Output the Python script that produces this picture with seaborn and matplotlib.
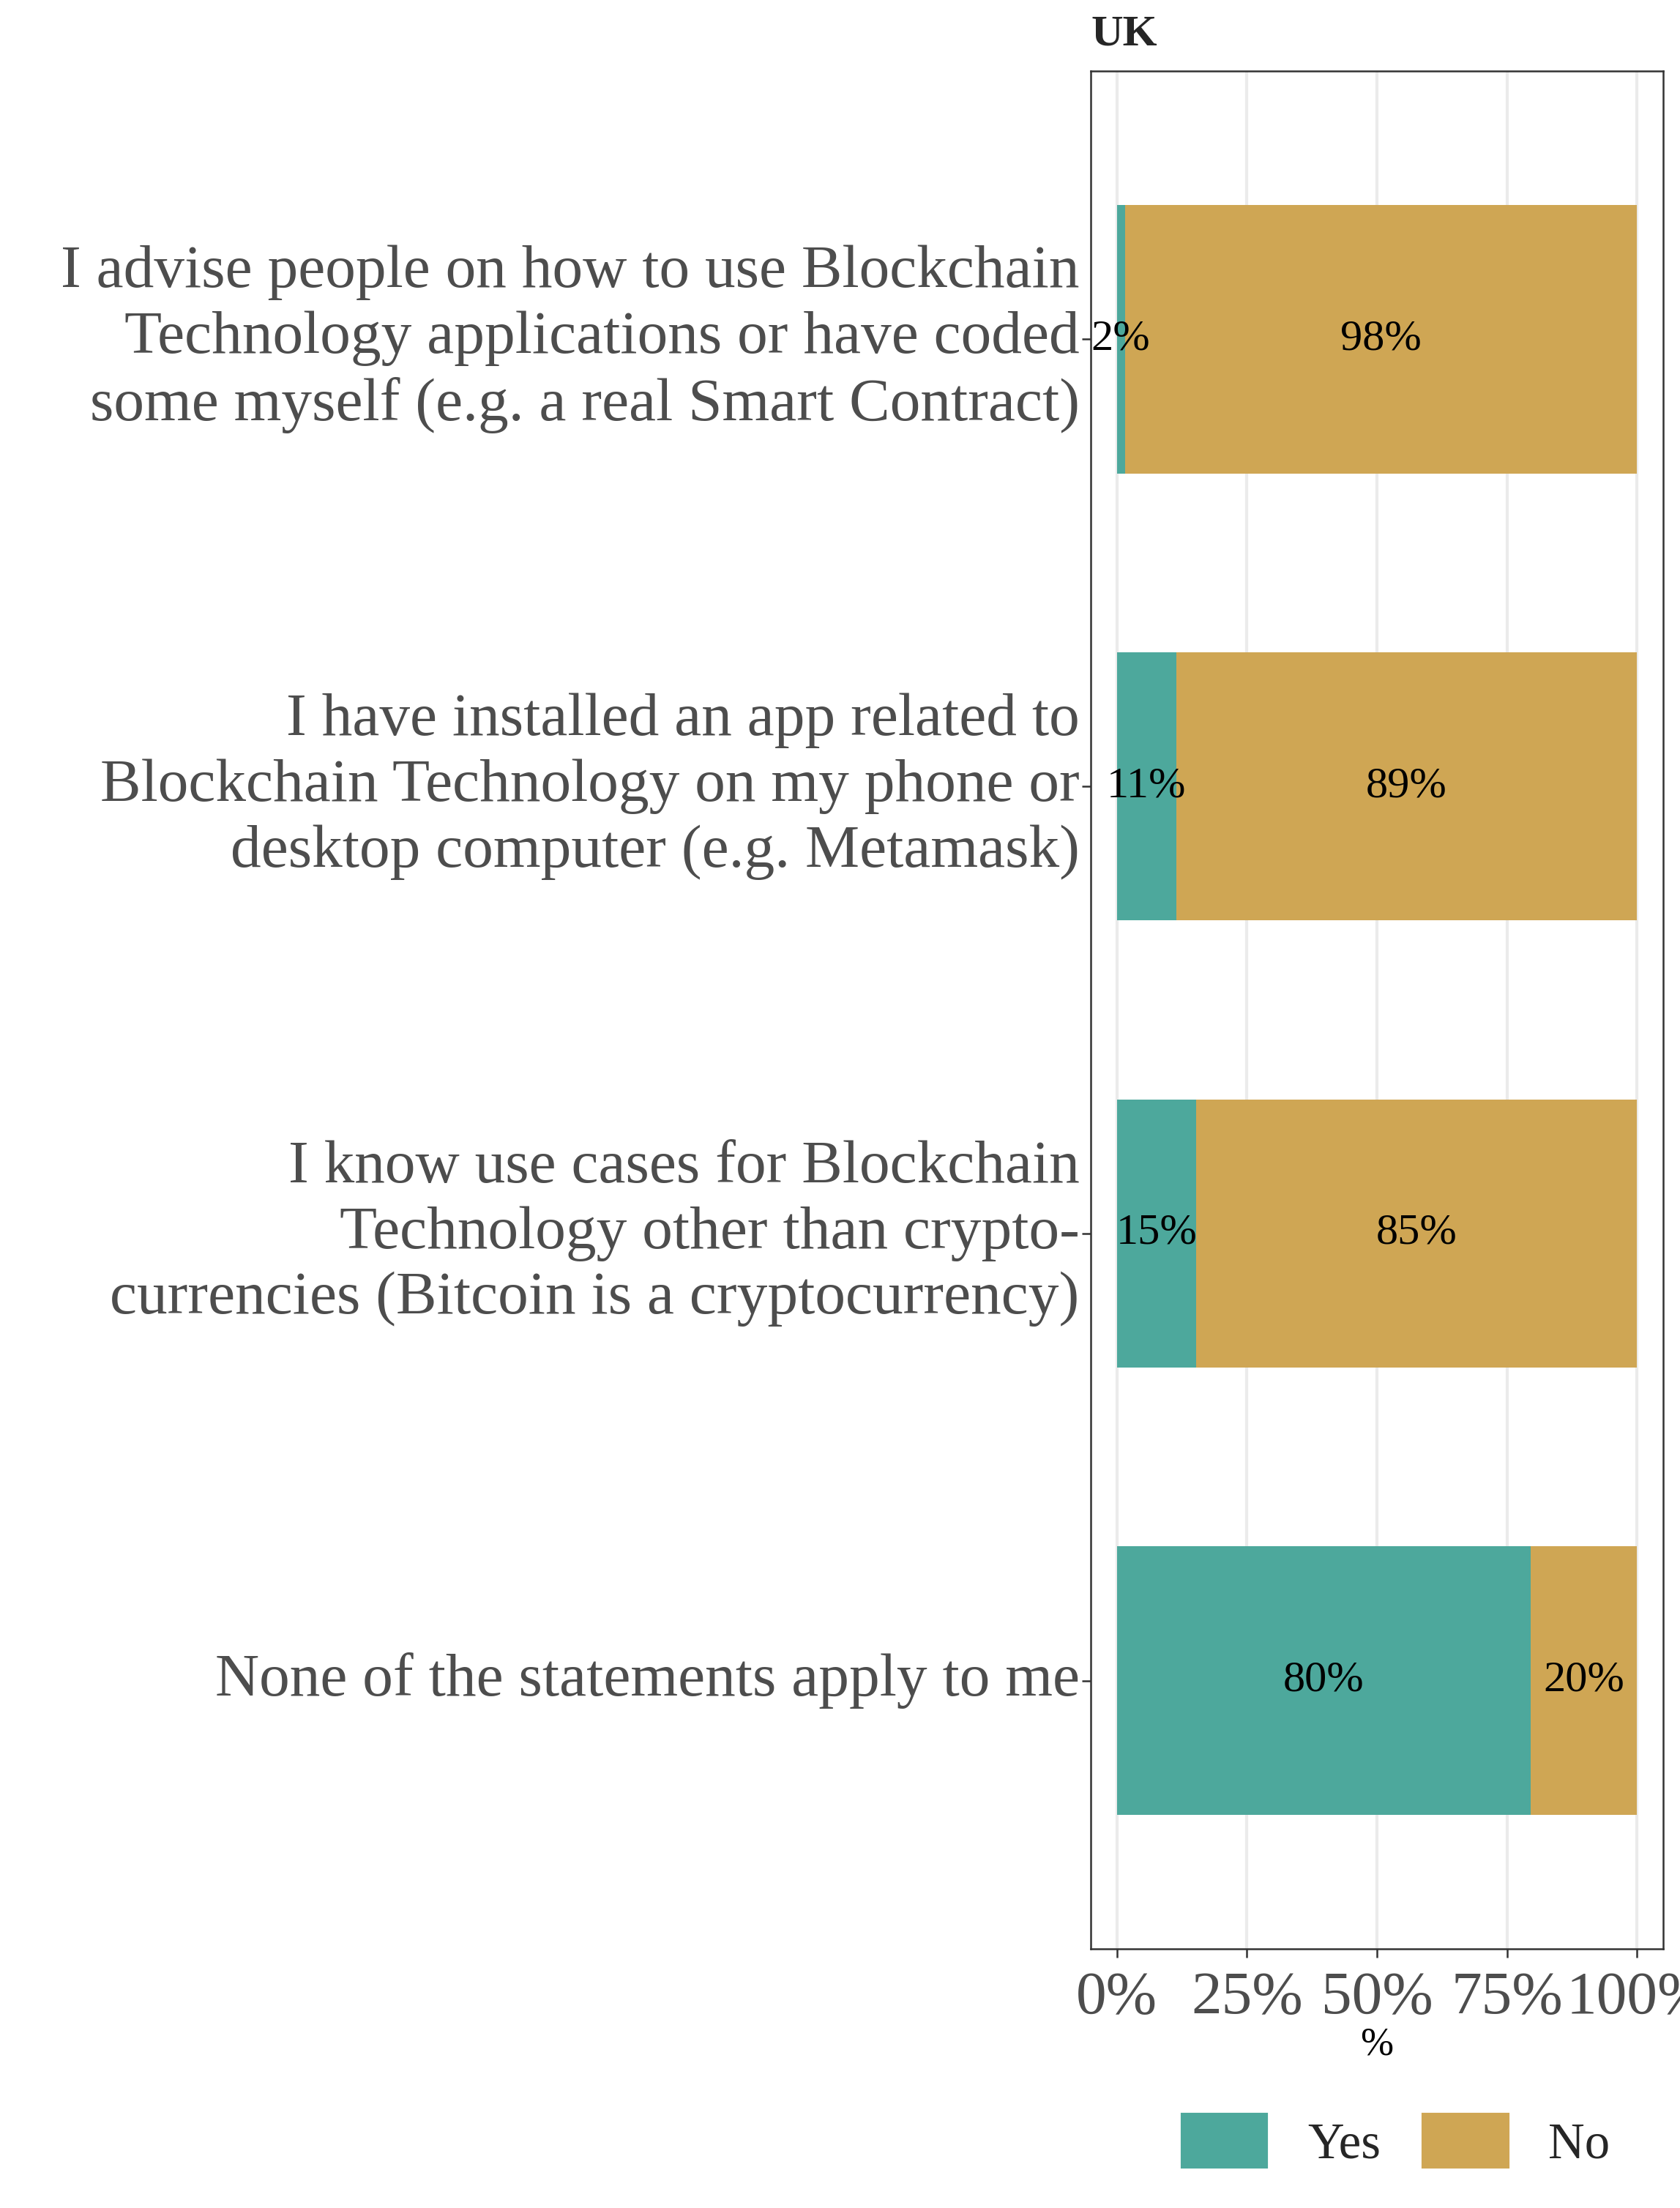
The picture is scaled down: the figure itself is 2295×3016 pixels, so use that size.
import matplotlib
matplotlib.use("Agg")
import matplotlib.pyplot as plt
import matplotlib.patches as mpatches
import seaborn as sns
import numpy as np
import pandas as pd

# ---- data ----
statements = [
    "I advise people on how to use Blockchain\nTechnology applications or have coded\nsome myself (e.g. a real Smart Contract)",
    "I have installed an app related to\nBlockchain Technology on my phone or\ndesktop computer (e.g. Metamask)",
    "I know use cases for Blockchain\nTechnology other than crypto-\ncurrencies (Bitcoin is a cryptocurrency)",
    "None of the statements apply to me",
]
yes_pct = [1.6, 11.4, 15.3, 79.6]
no_pct = [100 - v for v in yes_pct]
legend_labels = ["Yes", "No"]
x_ticks = [0, 25, 50, 75, 100]
x_tick_labels = ["0%", "25%", "50%", "75%", "100%"]
panel_title = "UK"
x_label = "%"

# ---- style ----
sns.set_style("white")
plt.rcParams["font.family"] = ["Liberation Serif", "DejaVu Serif"]

teal = "#4DA89C"
gold = "#CFA654"
grid_c = "#EBEBEB"
border_c = "#333333"
tick_label_c = "#4D4D4D"

df = pd.DataFrame({"statement": statements, "yes": yes_pct, "no": no_pct})
df["total"] = df["yes"] + df["no"]

fig = plt.figure(figsize=(2295 / 300, 3016 / 300), dpi=300)
ax = fig.add_axes([1490 / 2295, 1 - 2662 / 3016, (2272 - 1490) / 2295, (2662 - 97) / 3016])

ax.set_axisbelow(True)
for t in x_ticks:
    ax.axvline(t, color=grid_c, lw=1.0, zorder=0)

sns.barplot(data=df, x="total", y="statement", color=gold, width=0.6,
            saturation=1, ax=ax, orient="h", zorder=2, linewidth=0)
sns.barplot(data=df, x="yes", y="statement", color=teal, width=0.6,
            saturation=1, ax=ax, orient="h", zorder=3, linewidth=0)

for i, (y, n) in enumerate(zip(df["yes"], df["no"])):
    ax.text(y / 2, i, f"{round(y):d}%", ha="center", va="center",
            fontsize=14.5, color="black", zorder=5)
    ax.text(y + n / 2, i, f"{round(n):d}%", ha="center", va="center",
            fontsize=14.5, color="black", zorder=5)

ax.set_xlim(-5, 105)
ax.set_ylim(3.6, -0.6)
ax.set_xticks(x_ticks)
ax.set_xticklabels(x_tick_labels, fontsize=20, color=tick_label_c)
ax.tick_params(axis="x", length=2.9, width=0.6, color=border_c, pad=4.5, direction="out", bottom=True)
ax.tick_params(axis="y", length=2.9, width=0.6, color=border_c, pad=0.8, direction="out", left=True)
for lab in ax.get_yticklabels():
    lab.set_fontsize(20)
    lab.set_color(tick_label_c)
    lab.set_linespacing(1.25)
    lab.set_verticalalignment("center")

ax.set_ylabel("")
ax.set_xlabel(x_label, fontsize=13, color="black", labelpad=0)
ax.set_title(panel_title, loc="left", fontweight="bold", fontsize=14.5, pad=8.4)

for s in ax.spines.values():
    s.set_visible(True)
    s.set_color(border_c)
    s.set_linewidth(0.6)

handles = [mpatches.Patch(color=teal, label=legend_labels[0]),
           mpatches.Patch(color=gold, label=legend_labels[1])]
fig.legend(handles=handles, loc="center", bbox_to_anchor=(0.831, 0.0302),
           ncol=2, frameon=False, fontsize=16.5, handlelength=1.68,
           handleheight=1.24, handletextpad=0.81, columnspacing=0.85,
           borderpad=0, borderaxespad=0)

fig.savefig("out.png", dpi=300)
